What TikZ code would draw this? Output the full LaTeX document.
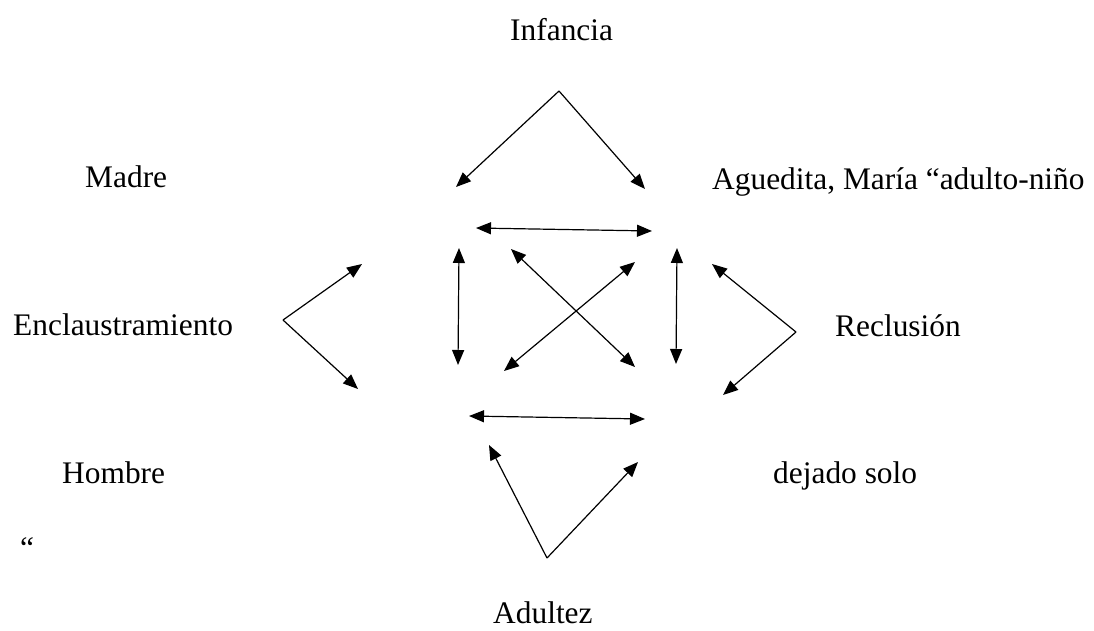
\documentclass[tikz,border=0pt]{standalone}
\usepackage{fontspec}
\setmainfont{Liberation Serif}
\usetikzlibrary{arrows.meta}

\begin{document}
\begin{tikzpicture}[x=1pt, y=-1pt,
    word/.style={anchor=base west, inner sep=0pt, font=\fontsize{31.4}{37}\selectfont},
    link/.style={line width=1.2pt, -{Triangle[length=15pt, width=12pt]}},
    both/.style={line width=1.2pt, {Triangle[length=15pt, width=12pt]}-{Triangle[length=15pt, width=12pt]}}]
    \useasboundingbox (0, 0) rectangle (1094, 630);

    % Texts
    \node[word] (infancia) at (510, 40) {Infancia};
    \node[word] (madre) at (85, 187) {Madre};
    \node[word] (aguedita) at (712, 189) {Aguedita, María “adulto-niño};
    \node[word] (enclaustramiento) at (13, 335) {Enclaustramiento};
    \node[word] (reclusion) at (835, 336) {Reclusión};
    \node[word] (hombre) at (62, 483) {Hombre};
    \node[word] (dejado) at (773, 483) {dejado solo};
    \node[word] (comillas) at (20, 558) {“};
    \node[word] (adultez) at (493, 623) {Adultez};

    % Infancia
    \coordinate (inf) at (559, 91);
    \coordinate (inf-l) at (456, 187);
    \coordinate (inf-r) at (645, 189);
    \draw[link] (inf) -- (inf-l);
    \draw[link] (inf) -- (inf-r);

    % Square in the middle
    \coordinate (tl) at (476, 228);
    \coordinate (tr) at (652, 231);
    \coordinate (bl) at (469, 416);
    \coordinate (br) at (645, 419);
    \draw[both] (tl) -- (tr);
    \draw[both] (bl) -- (br);
    \draw[both] (459, 248) coordinate (lt) -- (458, 365) coordinate (lb);
    \draw[both] (677, 248) coordinate (rt) -- (676, 364) coordinate (rb);
    \draw[both] (511, 249) coordinate (x1) -- (635, 367) coordinate (x2);
    \draw[both] (635, 262) coordinate (x3) -- (504, 371) coordinate (x4);

    % Enclaustramiento
    \coordinate (enc) at (283, 320);
    \coordinate (enc-u) at (362, 264);
    \coordinate (enc-d) at (358, 389);
    \draw[link] (enc) -- (enc-u);
    \draw[link] (enc) -- (enc-d);

    % Reclusion
    \coordinate (rec) at (796, 332);
    \coordinate (rec-u) at (712, 264);
    \coordinate (rec-d) at (723, 395);
    \draw[link] (rec) -- (rec-u);
    \draw[link] (rec) -- (rec-d);

    % Adultez
    \coordinate (adu) at (547, 558);
    \coordinate (adu-l) at (489, 445);
    \coordinate (adu-r) at (638, 462);
    \draw[link] (adu) -- (adu-l);
    \draw[link] (adu) -- (adu-r);
\end{tikzpicture}
\end{document}
